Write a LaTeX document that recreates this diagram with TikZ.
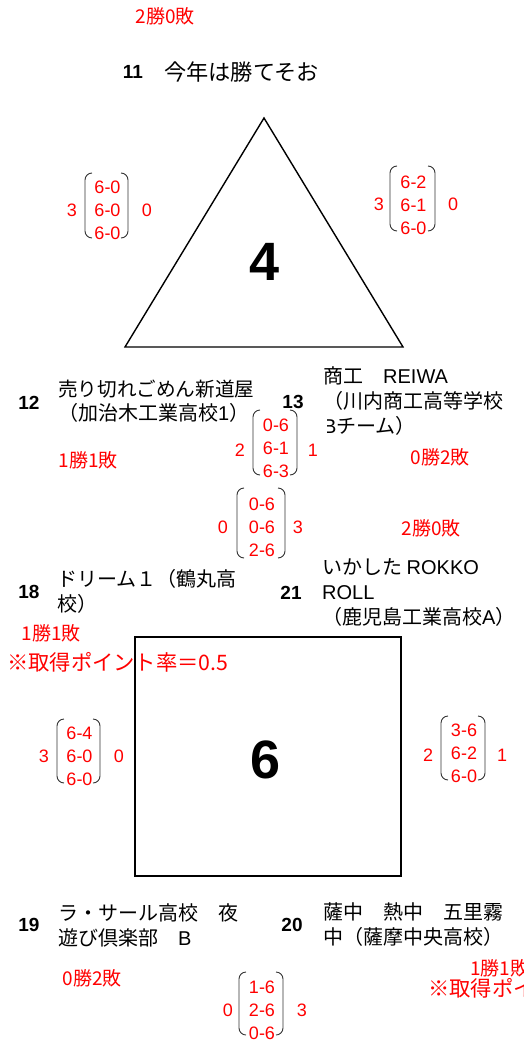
\documentclass[tikz,border=0pt]{standalone}
\usepackage{fontspec}
\setmainfont{Noto Sans CJK JP}
\newfontfamily\lsans{Liberation Sans}
\newcommand\lat[1]{{\lsans #1}}
\tikzset{
  redtxt/.style={text=red, inner sep=0pt, font=\fontsize{19}{19}\selectfont},
  redbig/.style={text=red, inner sep=0pt, font=\fontsize{21.3}{21.3}\selectfont, anchor=west},
  score/.style={text=red, inner sep=0pt, font=\lsans\fontsize{18}{18}\selectfont},
  teamno/.style={inner sep=0pt, font=\lsans\bfseries\fontsize{19}{19}\selectfont},
  team/.style={inner sep=0pt, anchor=west, align=left, font=\fontsize{20}{25}\selectfont},
  big/.style={inner sep=0pt, font=\lsans\bfseries\fontsize{54}{54}\selectfont},
  paren/.style={draw=black!80, line width=0.9pt, rounded corners=7pt},
  court/.style={draw=black, line width=1.4pt}
}
% #1 name, #2 left paren x, #3 right paren x, #4 top, #5 bottom, #6 first row y, #7-#9 rows
\newcommand\scoremat[9]{%
  \draw[paren] (#2+7,#4) -- (#2,#4) -- (#2,#5) -- (#2+7,#5);
  \draw[paren] (#3-7,#4) -- (#3,#4) -- (#3,#5) -- (#3-7,#5);
  \node[score] (#1a) at ({(#2+#3)/2+1},#6) {#7};
  \node[score] (#1b) at ({(#2+#3)/2+1},#6+23) {#8};
  \node[score] (#1c) at ({(#2+#3)/2+1},#6+46) {#9};
}
\begin{document}
\begin{tikzpicture}[x=1pt,y=-1pt]
\useasboundingbox (0,0) rectangle (524,1041);

% ---------- group 4 (triangle) ----------
\node[redtxt] (rec11) at (165,16) {2勝0敗};
\node[teamno] (n11) at (133,72) {11};
\node[team, font=\fontsize{22.2}{25}\selectfont] (t11) at (164,72) {今年は勝てそお};

\draw[court] (264,118) -- (403,347) -- (125,347) -- cycle;
\node[big] (g4) at (265,262) {4};

\node[score] (mAl) at (72,210) {3};
\scoremat{mA}{85}{128}{173}{238}{187}{6-0}{6-0}{6-0}
\node[score] (mAr) at (147,210) {0};

\node[score] (mBl) at (379,204) {3};
\scoremat{mB}{390}{435}{166}{231}{182}{6-2}{6-1}{6-0}
\node[score] (mBr) at (453,204) {0};

\node[teamno] (n12) at (29,403) {12};
\node[team, font=\fontsize{19.6}{25}\selectfont] (t12a) at (58,389) {売り切れごめん新道屋};
\begin{scope}
  \clip (50,400) rectangle (234,430);
  \node[team] (t12b) at (58,413) {（加治木工業高校\lat{1}）};
\end{scope}
\node[redtxt] (rec12) at (88,460) {1勝1敗};

\node[teamno] (n13) at (293,402) {13};
\node[team] (t13) at (323,388.5) {商工　\lat{REIWA}\\（川内商工高等学校};
\begin{scope}
  \clip (327,413) rectangle (524,440);
  \node[team] (t13b) at (323,426) {\lat{B}チーム）};
\end{scope}
\node[redtxt] (rec13) at (440,457) {0勝2敗};

\node[score] (mCl) at (240,450) {2};
\scoremat{mC}{253}{297}{410}{475}{425}{0-6}{6-1}{6-3}
\node[score] (mCr) at (313,450) {1};

% ---------- group 6 (square) ----------
\node[score] (mDl) at (223,527) {0};
\scoremat{mD}{237}{285}{488}{558}{504}{0-6}{0-6}{2-6}
\node[score] (mDr) at (298,527) {3};
\node[redtxt] (rec21) at (431,528) {2勝0敗};

\node[teamno] (n18) at (29,592) {18};
\node[team] (t18) at (57,591) {ドリーム１（鶴丸高\\校）};
\node[redtxt] (rec18) at (51,633) {1勝1敗};
\node[redbig] (pt18) at (7,662) {※取得ポイント率＝0.5};

\node[teamno] (n21) at (291,593) {21};
\node[team] (t21) at (322,593) {いかした \lat{ROKKO}\\\lat{ROLL}\\（鹿児島工業高校\lat{A}）};

\draw[court] (135,637) rectangle (401,876);
\node[big] (g6) at (266,760) {6};

\node[score] (mEl) at (44,756) {3};
\scoremat{mE}{57}{100}{719}{783}{733}{6-4}{6-0}{6-0}
\node[score] (mEr) at (119,756) {0};

\node[score] (mFl) at (428,755) {2};
\scoremat{mF}{441}{485}{716}{780}{730}{3-6}{6-2}{6-0}
\node[score] (mFr) at (502,755) {1};

\node[teamno] (n19) at (29,925) {19};
\node[team] (t19) at (58,925) {ラ・サール高校　夜\\遊び倶楽部　\lat{B}};
\node[redtxt] (rec19) at (92,978) {0勝2敗};

\node[teamno] (n20) at (292,925) {20};
\node[team] (t20) at (323,925) {薩中　熱中　五里霧\\中（薩摩中央高校）};
\node[redtxt, anchor=west] (rec20) at (470,968) {1勝1敗};
\node[redbig] (pt20) at (428,988) {※取得ポイント率＝0.5};

\node[score] (mGl) at (228,1010) {0};
\scoremat{mG}{239}{283}{972}{1035}{987}{1-6}{2-6}{0-6}
\node[score] (mGr) at (302,1010) {3};
\end{tikzpicture}
\end{document}
